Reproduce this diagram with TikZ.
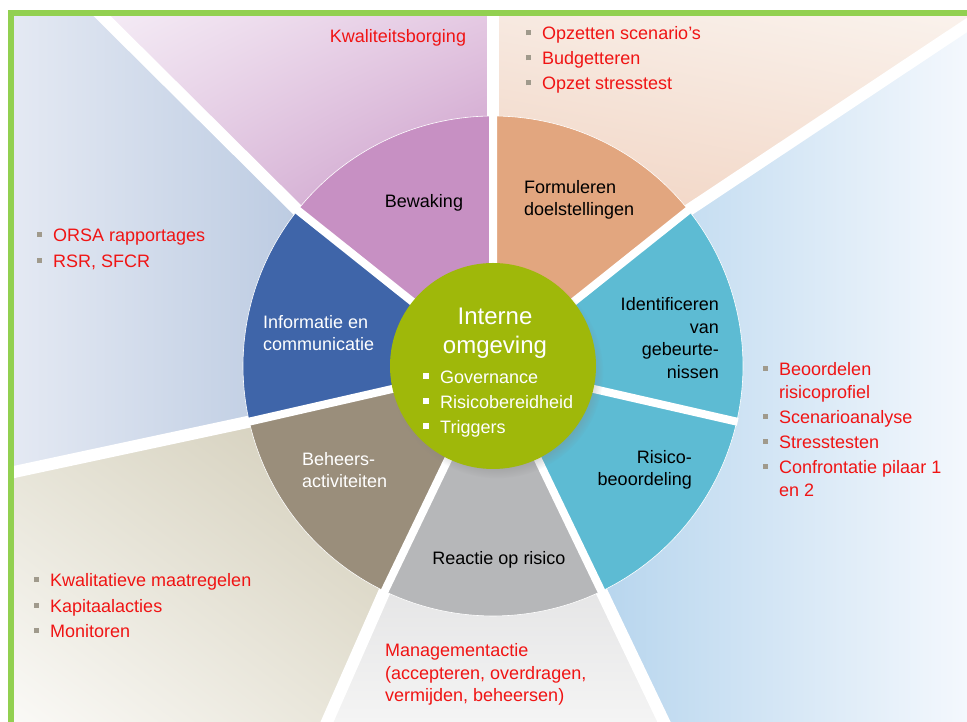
\documentclass[tikz,border=0pt]{standalone}
\usepackage{fontspec}
\setmainfont{Liberation Sans}
\usetikzlibrary{calc,shadows,shadings}

\definecolor{framegreen}{RGB}{146,208,80}
\definecolor{segpurple}{RGB}{199,144,195}
\definecolor{segorange}{RGB}{226,166,127}
\definecolor{segteal}{RGB}{93,187,211}
\definecolor{seggrey}{RGB}{182,183,185}
\definecolor{segtaupe}{RGB}{154,142,123}
\definecolor{segblue}{RGB}{63,101,169}
\definecolor{coregreen}{RGB}{159,184,10}
\definecolor{redtxt}{RGB}{240,20,20}
\definecolor{bulgrey}{RGB}{160,154,140}
\definecolor{pulUL}{RGB}{244,235,245}
\definecolor{pulUR}{RGB}{228,200,226}
\definecolor{pulLL}{RGB}{215,180,214}
\definecolor{pulLR}{RGB}{180,115,178}
\definecolor{peaUL}{RGB}{247,233,224}
\definecolor{peaUR}{RGB}{250,242,236}
\definecolor{peaLL}{RGB}{236,196,172}
\definecolor{peaLR}{RGB}{240,205,185}
\definecolor{rblL}{RGB}{165,203,233}
\definecolor{rblR}{RGB}{244,248,253}
\definecolor{gryT}{RGB}{205,205,207}
\definecolor{gryB}{RGB}{244,244,244}
\definecolor{tauUL}{RGB}{224,221,205}
\definecolor{tauUR}{RGB}{200,193,170}
\definecolor{tauLL}{RGB}{250,249,246}
\definecolor{tauLR}{RGB}{225,221,205}
\definecolor{lblL}{RGB}{228,233,243}
\definecolor{lblR}{RGB}{161,183,214}

\newcommand{\bul}{\makebox[16pt][l]{\textcolor{bulgrey}{\rule[4.5pt]{5pt}{5pt}}}}
\newcommand{\wbul}{\makebox[17pt][l]{\textcolor{white}{\rule[4.5pt]{5.5pt}{5.5pt}}}}
\newcommand{\ind}{\hspace*{16pt}}

\begin{document}
\begin{tikzpicture}[x=1pt, y=1pt, line join=round,
		bggap/.style={draw=white, line width=12pt, shorten >=-14pt},
		seggap/.style={draw=white, line width=8pt},
		segfill/.style={draw=white, line width=0.6pt},
		seglabel/.style={inner sep=0pt, font=\fontsize{18}{22.5}\selectfont},
		redlist/.style={inner sep=0pt, anchor=west, align=left, text=redtxt, font=\fontsize{18}{23}\selectfont}]
	\clip (0,0) rectangle (967,722);
	
	\coordinate (C) at (493,356);
	\coordinate (d1) at ($(C)+(90:250)$);
	\coordinate (d2) at ($(C)+(38.57:250)$);
	\coordinate (d3) at ($(C)+(-64.29:250)$);
	\coordinate (d4) at ($(C)+(-115.71:250)$);
	\coordinate (d5) at ($(C)+(192.86:250)$);
	\coordinate (d6) at ($(C)+(141.43:250)$);
	\coordinate (o1) at (493,706);
	\coordinate (o2) at (967,697);
	\coordinate (o3) at (664,0);
	\coordinate (o4) at (327,0);
	\coordinate (o5) at (14,250);
	\coordinate (o6) at (102,706);
	
	\shade[upper left=pulUL, upper right=pulUR, lower left=pulLL, lower right=pulLR]
		(C) -- (d6) -- (o6) -- (o1) -- (d1) -- cycle;
	\shade[upper left=peaUL, upper right=peaUR, lower left=peaLL, lower right=peaLR]
		(C) -- (d1) -- (o1) -- (967,706) -- (o2) -- (d2) -- cycle;
	\shade[left color=rblL, right color=rblR]
		(C) -- (d2) -- (o2) -- (967,0) -- (o3) -- (d3) -- cycle;
	\shade[top color=gryT, bottom color=gryB]
		(C) -- (d3) -- (o3) -- (o4) -- (d4) -- cycle;
	\shade[upper left=tauUL, upper right=tauUR, lower left=tauLL, lower right=tauLR]
		(C) -- (d4) -- (o4) -- (14,0) -- (o5) -- (d5) -- cycle;
	\shade[left color=lblL, right color=lblR]
		(C) -- (d5) -- (o5) -- (14,706) -- (o6) -- (d6) -- cycle;
	
	\draw[bggap] (C) -- (d1) -- (o1);
	\draw[bggap] (C) -- (d2) -- (o2);
	\draw[bggap] (C) -- (d3) -- (o3);
	\draw[bggap] (C) -- (d4) -- (o4);
	\draw[bggap] (C) -- (d5) -- (o5);
	\draw[bggap] (C) -- (d6) -- (o6);
	
	\draw[framegreen, line width=6pt, line join=miter] (11,-10) -- (11,709) -- (980,709);
	
	\filldraw[segfill, fill=segpurple] (C) -- +(90:250) arc[start angle=90, end angle=141.43, radius=250] -- cycle;
	\filldraw[segfill, fill=segblue] (C) -- +(141.43:250) arc[start angle=141.43, end angle=192.86, radius=250] -- cycle;
	\filldraw[segfill, fill=segtaupe] (C) -- +(192.86:250) arc[start angle=192.86, end angle=244.29, radius=250] -- cycle;
	\filldraw[segfill, fill=seggrey] (C) -- +(244.29:250) arc[start angle=244.29, end angle=295.71, radius=250] -- cycle;
	\filldraw[segfill, fill=segteal] (C) -- +(295.71:250) arc[start angle=295.71, end angle=347.14, radius=250] -- cycle;
	\filldraw[segfill, fill=segteal] (C) -- +(-12.86:250) arc[start angle=-12.86, end angle=38.57, radius=250] -- cycle;
	\filldraw[segfill, fill=segorange] (C) -- +(38.57:250) arc[start angle=38.57, end angle=90, radius=250] -- cycle;
	
	\draw[seggap] (C) -- +(90:251) (C) -- +(38.57:251) (C) -- +(-12.86:251)
		(C) -- +(-64.29:251) (C) -- +(-115.71:251) (C) -- +(192.86:251) (C) -- +(141.43:251);
	
	\node[circle, fill=coregreen, minimum size=206pt, inner sep=0pt,
		circular drop shadow={shadow scale=1.03, shadow xshift=4pt, shadow yshift=-6pt, opacity=.45}] (core) at (C) {};
	
	\node[seglabel] (bewaking) at (424,519) {Bewaking};
	\node[seglabel, anchor=west, align=left] (formuleren) at (524,522) {Formuleren\\doelstellingen};
	\node[seglabel, anchor=east, align=right] (identificeren) at (719,384) {Identificeren\\van\\gebeurte-\\nissen};
	\node[seglabel, anchor=east, align=right] (beoordeling) at (692,252) {Risico-\\beoordeling};
	\node[seglabel] (reactie) at (499,162) {Reactie op risico};
	\node[seglabel, anchor=west, align=left, text=white] (beheers) at (302,252) {Beheers-\\activiteiten};
	\node[seglabel, anchor=west, align=left, text=white] (informatie) at (263,389) {Informatie en\\communicatie};
	
	\node[inner sep=0pt, align=center, text=white, font=\fontsize{24}{29}\selectfont] (interne) at (495,388.5) {Interne\\omgeving};
	\node[inner sep=0pt, anchor=west, align=left, text=white, font=\fontsize{18}{25}\selectfont] (omgeving) at (423,318)
		{\wbul Governance\\\wbul Risicobereidheid\\\wbul Triggers};
	
	\node[redlist, anchor=center] (kwaliteit) at (398,684) {Kwaliteitsborging};
	\node[redlist] (scenario) at (526,661.7) {\bul Opzetten scenario’s\\[2pt]\bul Budgetteren\\[2pt]\bul Opzet stresstest};
	\node[redlist] (orsa) at (37,473) {\bul ORSA rapportages\\[3pt]\bul RSR, SFCR};
	\node[redlist] (profiel) at (763,292.5) {\bul Beoordelen\\\ind risicoprofiel\\[2pt]\bul Scenarioanalyse\\[2pt]\bul Stresstesten\\[2pt]\bul Confrontatie pilaar 1\\\ind en 2};
	\node[redlist] (maatregelen) at (34,116.3) {\bul Kwalitatieve maatregelen\\[2.5pt]\bul Kapitaalacties\\[2.5pt]\bul Monitoren};
	\node[redlist, font=\fontsize{18}{22.5}\selectfont] (management) at (385,47.3) {Managementactie\\(accepteren, overdragen,\\vermijden, beheersen)};
\end{tikzpicture}
\end{document}
